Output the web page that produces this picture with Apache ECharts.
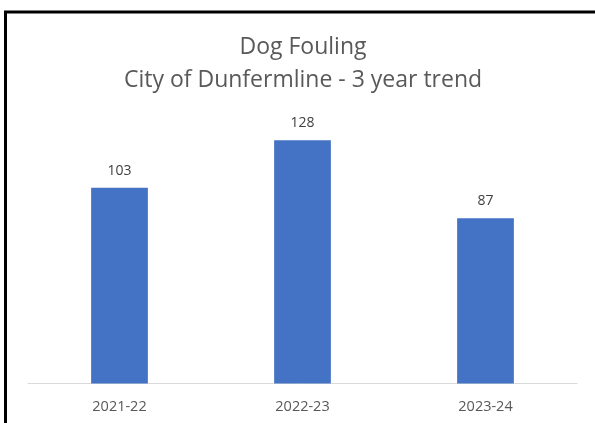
<!DOCTYPE html>
<html>
<head>
<meta charset="utf-8">
<script src="https://cdn.jsdelivr.net/npm/echarts@6/dist/echarts.min.js"></script>
<style>
html,body{margin:0;padding:0;background:#fff;}
#main{width:595px;height:423px;}
</style>
</head>
<body>
<div id="main"></div>
<script>
const titleLines = ['Dog Fouling', 'City of Dunfermline - 3 year trend'];
const categories = ['2021-22', '2022-23', '2023-24'];
const values = [103, 128, 87];

const chart = echarts.init(document.getElementById('main'), null, {renderer: 'canvas'});
chart.setOption({
  animation: false,
  backgroundColor: '#ffffff',
  title: {
    text: titleLines.join('\n'),
    left: 298,
    textAlign: 'center',
    top: 26,
    textStyle: {
      fontFamily: 'Open Sans',
      fontSize: 23,
      fontWeight: 'normal',
      color: '#595959',
      lineHeight: 33
    }
  },
  graphic: [{
    type: 'rect',
    shape: {x: 5.5, y: 12, width: 700, height: 500},
    style: {fill: 'none', stroke: '#000000', lineWidth: 3},
    silent: true
  }],
  grid: {left: 28, right: 18, top: 117.5, bottom: 39.5, containLabel: false},
  xAxis: {
    type: 'category',
    data: categories,
    axisLine: {show: true, lineStyle: {color: '#D9D9D9', width: 1}},
    axisTick: {show: false},
    axisLabel: {
      color: '#595959',
      fontFamily: 'Open Sans',
      fontSize: 14.5,
      margin: 16
    }
  },
  yAxis: {
    type: 'value',
    min: 0,
    max: 140,
    interval: 20,
    show: false,
    splitLine: {show: false}
  },
  series: [{
    type: 'bar',
    data: values,
    barWidth: '31%',
    itemStyle: {color: '#4472C4'},
    label: {
      show: true,
      position: 'top',
      distance: 10,
      color: '#404040',
      fontFamily: 'Open Sans',
      fontSize: 14
    }
  }]
});
</script>
</body>
</html>
